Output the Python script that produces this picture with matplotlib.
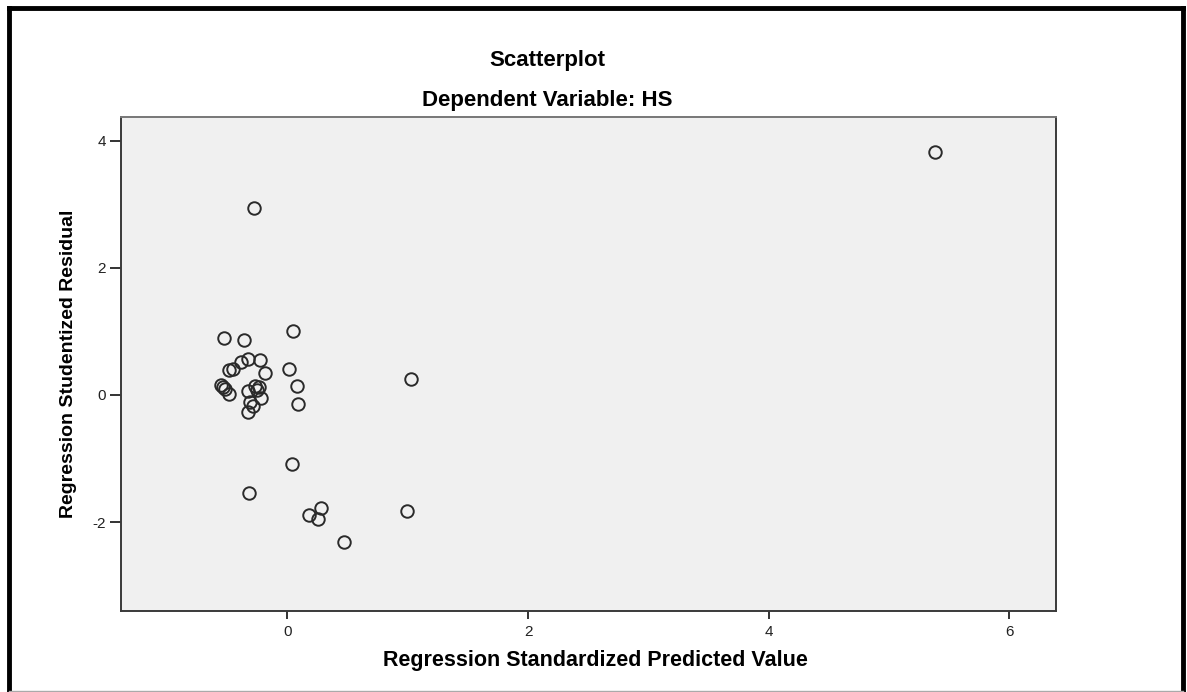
import matplotlib
matplotlib.use("Agg")
import matplotlib.pyplot as plt
from matplotlib.lines import Line2D

# Regression standardized predicted value (x) vs studentized residual (y)
pred = [-0.53, -0.36, 0.05, -0.49, -0.45, -0.385, -0.33, -0.23, -0.19, 0.01,
        -0.55, -0.54, -0.52, -0.49, -0.33, -0.27, -0.24, -0.255, 0.08,
        -0.31, -0.29, -0.22, 0.09, -0.33,
        0.04, -0.32, 0.28, 0.18, 0.25, 0.47, 0.99,
        -0.28, 5.38, 1.03]
resid = [0.90, 0.87, 1.00, 0.39, 0.40, 0.52, 0.56, 0.55, 0.34, 0.41,
         0.15, 0.13, 0.10, 0.01, 0.06, 0.14, 0.12, 0.08, 0.14,
         -0.11, -0.17, -0.05, -0.15, -0.27,
         -1.08, -1.54, -1.78, -1.89, -1.96, -2.32, -1.83,
         2.94, 3.82, 0.25]

xticks = [0, 2, 4, 6]
yticks = [-2, 0, 2, 4]

plt.rcParams["font.family"] = ["Liberation Sans", "DejaVu Sans"]
plt.rcParams["axes.unicode_minus"] = False

fig = plt.figure(figsize=(11.87, 6.92), dpi=100)
ax = fig.add_axes([0.1019, 0.117, 0.7877, 0.7139])
ax.set_facecolor("#f0f0f0")

ax.plot(pred, resid, "o", linestyle="none", markersize=9,
        markerfacecolor="none", markeredgecolor="#2a2a2a", markeredgewidth=1.4)

ax.set_xlim(-1.384, 6.387)
ax.set_ylim(-3.40, 4.37)
ax.set_xticks(xticks)
ax.set_yticks(yticks)
ax.tick_params(axis="x", direction="out", length=6, width=1.4, color="#333333",
               labelsize=11, labelcolor="#222222", pad=4)
ax.tick_params(axis="y", direction="out", length=8, width=1.4, color="#333333",
               labelsize=11, labelcolor="#222222", pad=3)
for side in ["left", "right", "top", "bottom"]:
    ax.spines[side].set_color("#3a3a3a")
    ax.spines[side].set_linewidth(1.4)
ax.spines["top"].set_color("#777777")

ax.set_xlabel("Regression Standardized Predicted Value", fontsize=15.5,
              fontweight="bold")
ax.xaxis.set_label_coords(0.507, -0.078)
ax.set_ylabel("Regression Studentized Residual", fontsize=14, fontweight="bold",
              labelpad=11)

fig.text(0.461, 0.913, "Scatterplot", ha="center", va="center",
         fontsize=16, fontweight="bold")
fig.text(0.461, 0.855, "Dependent Variable: HS", ha="center", va="center",
         fontsize=16, fontweight="bold")

# outer frame of the exported chart
W, H = 1187, 692
frame = dict(color="black", linewidth=3.5, solid_capstyle="projecting")
fig.add_artist(Line2D([9 / W, 9 / W], [1 - 8 / H, 1 / H], transform=fig.transFigure, **frame))
fig.add_artist(Line2D([9 / W, 1183 / W], [1 - 8 / H, 1 - 8 / H], transform=fig.transFigure, **frame))
fig.add_artist(Line2D([1183 / W, 1183 / W], [1 - 8 / H, 1 / H], transform=fig.transFigure, **frame))
fig.add_artist(Line2D([9 / W, 1183 / W], [1.5 / H, 1.5 / H], transform=fig.transFigure,
                      color="#aaaaaa", linewidth=1))

fig.savefig("out.png", dpi=100)
